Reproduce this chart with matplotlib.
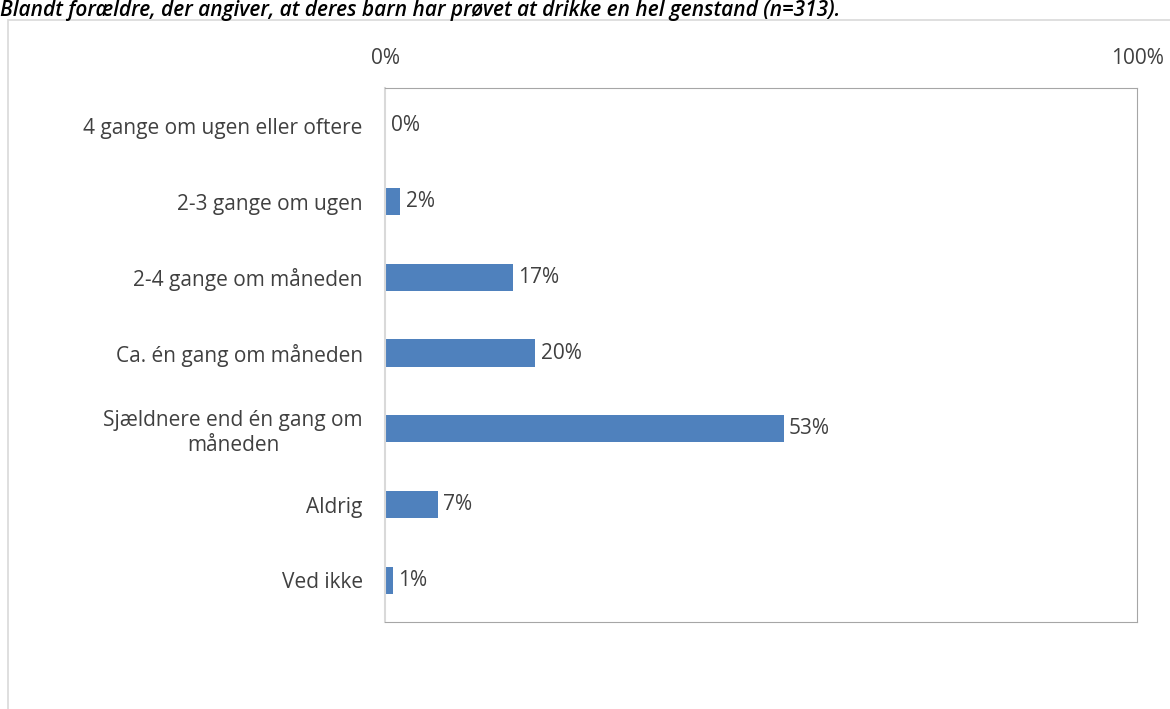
import matplotlib.pyplot as plt
from matplotlib.patches import Rectangle

plt.rcParams['font.family'] = ['Open Sans', 'DejaVu Sans']

# Svarkategorier og andele (%)
categories = [
    "4 gange om ugen eller oftere",
    "2-3 gange om ugen",
    "2-4 gange om måneden",
    "Ca. én gang om måneden",
    "Sjældnere end én gang om\nmåneden",
    "Aldrig",
    "Ved ikke",
]
values = [0, 2, 17, 20, 53, 7, 1]
xtick_labels = ["0%", "100%"]
title = "Blandt forældre, der angiver, at deres barn har prøvet at drikke en hel genstand (n=313)."

bar_color = "#4f81bd"
text_color = "#404040"
fs = 15

fig = plt.figure(figsize=(11.7, 7.09), dpi=100)

# ramme om diagramområdet
fig.add_artist(Rectangle((8 / 1170, -0.1), 1.2, 1.1 - 20 / 709, transform=fig.transFigure,
                         fill=False, edgecolor="#d9d9d9", linewidth=1.2))

fig.text(0, 1, title, fontsize=15, style="italic", fontweight="semibold",
         ha="left", va="top", color="black")

ax = fig.add_axes([385 / 1170, 1 - 622 / 709, (1137 - 385) / 1170, (622 - 88) / 709])

y = list(range(len(categories)))
ax.barh(y, values, height=0.36, color=bar_color)
ax.set_xlim(0, 100)
ax.set_ylim(len(categories) - 0.5 + 0.05, -0.5)
ax.set_yticks(y)
ax.set_yticklabels(categories, fontsize=fs, color=text_color)
for lbl in ax.get_yticklabels():
    lbl.set_multialignment("center")
ax.tick_params(axis="y", length=0, pad=16)

ax.xaxis.tick_top()
ax.set_xticks([0, 100])
ax.set_xticklabels(xtick_labels, fontsize=fs, color=text_color)
ax.tick_params(axis="x", length=0, pad=14)

for yi, v in zip(y, values):
    ax.annotate(f"{v}%", (v, yi), xytext=(4, 0), textcoords="offset points",
                ha="left", va="center", fontsize=fs, color=text_color)

for side in ["top", "right", "bottom"]:
    ax.spines[side].set_color("#a6a6a6")
ax.spines["left"].set_color("#d9d9d9")
ax.spines["left"].set_linewidth(1.5)

fig.savefig("out.png", dpi=100)
